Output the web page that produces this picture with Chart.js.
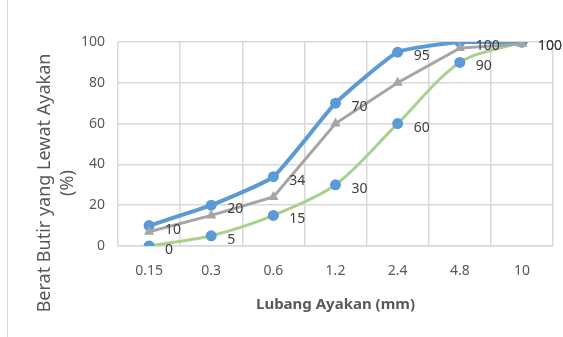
<!DOCTYPE html>
<html>
<head>
<meta charset="utf-8">
<script src="https://cdn.jsdelivr.net/npm/chart.js@4.4.1/dist/chart.umd.min.js"></script>
<style>
  html, body { margin: 0; padding: 0; background: #ffffff; }
  #wrap { position: relative; width: 563px; height: 337px; }
  #edge { position: absolute; left: 7px; top: 0; width: 1px; height: 337px; background: #d9d9d9; }
  canvas { position: absolute; left: 0; top: 0; }
</style>
</head>
<body>
<div id="wrap">
  <div id="edge"></div>
  <canvas id="c" width="563" height="337"></canvas>
</div>
<script>
const categories = ['0.15', '0.3', '0.6', '1.2', '2.4', '4.8', '10'];
const upperValues = [10, 20, 34, 70, 95, 100, 100];
const middleValues = [7, 15, 24, 60, 80, 97, 99];
const lowerValues = [0, 5, 15, 30, 60, 90, 100];
const yTicks = [0, 20, 40, 60, 80, 100];
const xTitle = 'Lubang Ayakan (mm)';
const yTitle = ['Berat Butir yang Lewat Ayakan', '(%)'];

const FONT = "'Noto Sans', 'Open Sans', sans-serif";

const labelPlugin = {
  id: 'pointLabels',
  afterDatasetsDraw(chart) {
    const ctx = chart.ctx;
    ctx.save();
    ctx.font = '14px ' + FONT;
    ctx.fillStyle = '#404040';
    ctx.textAlign = 'left';
    ctx.textBaseline = 'middle';
    chart.data.datasets.forEach((ds, i) => {
      if (!ds.showLabels) return;
      const meta = chart.getDatasetMeta(i);
      meta.data.forEach((pt, j) => {
        ctx.fillText(String(ds.data[j]), pt.x + 16, pt.y + 4);
      });
    });
    ctx.restore();
  }
};

const yTitlePlugin = {
  id: 'yTitle',
  afterDraw(chart) {
    const ctx = chart.ctx;
    ctx.save();
    ctx.font = '18px ' + FONT;
    ctx.fillStyle = '#595959';
    ctx.textAlign = 'center';
    ctx.textBaseline = 'middle';
    const cy = 183;
    const xs = [45, 68];
    yTitle.forEach((t, k) => {
      ctx.save();
      ctx.translate(xs[k], cy);
      ctx.rotate(-Math.PI / 2);
      ctx.fillText(t, 0, 0);
      ctx.restore();
    });
    ctx.restore();
  }
};

new Chart(document.getElementById('c'), {
  type: 'line',
  data: {
    labels: categories,
    datasets: [
      {
        data: upperValues,
        showLabels: true,
        borderColor: '#5b9bd5',
        backgroundColor: '#5b9bd5',
        borderWidth: 4,
        pointStyle: 'circle',
        pointRadius: 5.5,
        pointBorderWidth: 0,
        pointBackgroundColor: '#5b9bd5',
        tension: 0.15,
        order: 1
      },
      {
        data: middleValues,
        showLabels: false,
        borderColor: '#a5a5a5',
        backgroundColor: '#a5a5a5',
        borderWidth: 3,
        pointStyle: 'triangle',
        pointRadius: 6,
        pointBorderWidth: 0,
        pointBackgroundColor: '#a5a5a5',
        tension: 0,
        order: 0
      },
      {
        data: lowerValues,
        showLabels: true,
        borderColor: '#a9d18e',
        backgroundColor: '#5b9bd5',
        borderWidth: 3,
        pointStyle: 'circle',
        pointRadius: 5.5,
        pointBorderWidth: 0,
        pointBackgroundColor: '#5b9bd5',
        tension: 0.3,
        order: 2
      }
    ]
  },
  options: {
    responsive: false,
    animation: false,
    devicePixelRatio: 1,
    layout: { padding: { left: 0, right: 10, top: 42, bottom: 0 } },
    plugins: {
      legend: { display: false },
      tooltip: { enabled: false }
    },
    scales: {
      x: {
        offset: true,
        grid: { offset: true, color: '#d9d9d9', lineWidth: 1.5, drawTicks: false },
        border: { color: '#d9d9d9', width: 1.5 },
        ticks: { color: '#595959', font: { family: FONT, size: 14 }, padding: 17, maxRotation: 0 },
        title: {
          display: true,
          text: xTitle,
          color: '#595959',
          font: { family: FONT, size: 15, weight: 'bold' },
          padding: { top: 0, bottom: 23 }
        },
        afterFit(scale) { scale.height = 91; }
      },
      y: {
        min: 0,
        max: 100,
        afterBuildTicks(scale) { scale.ticks = yTicks.map(v => ({ value: v })); },
        grid: { color: '#d9d9d9', lineWidth: 1.5, drawTicks: false },
        border: { display: false },
        ticks: { color: '#595959', font: { family: FONT, size: 14 }, padding: 13 },
        afterFit(scale) { scale.width = 118; }
      }
    }
  },
  plugins: [labelPlugin, yTitlePlugin]
});
</script>
</body>
</html>
